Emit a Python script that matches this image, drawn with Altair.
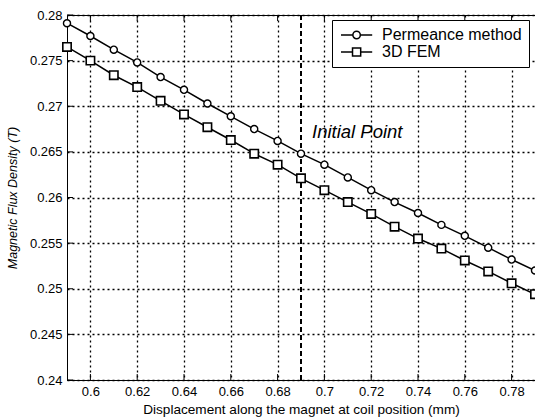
import altair as alt
import pandas as pd

# ---- data ----
x_vals = [0.59, 0.60, 0.61, 0.62, 0.63, 0.64, 0.65, 0.66, 0.67, 0.68, 0.69,
          0.70, 0.71, 0.72, 0.73, 0.74, 0.75, 0.76, 0.77, 0.78, 0.79]
permeance = [0.2791, 0.2777, 0.2762, 0.2748, 0.2732, 0.2718, 0.2703, 0.2689, 0.2675, 0.2662, 0.2648,
             0.2636, 0.2622, 0.2608, 0.2595, 0.2583, 0.2570, 0.2558, 0.2545, 0.2532, 0.2520]
fem3d = [0.2765, 0.2750, 0.2734, 0.2721, 0.2706, 0.2691, 0.2677, 0.2663, 0.2648, 0.2636, 0.2621,
         0.2608, 0.2595, 0.2582, 0.2568, 0.2555, 0.2544, 0.2531, 0.2519, 0.2506, 0.2494]
series_names = ["Permeance method", "3D FEM"]
x_ticks = [0.60, 0.62, 0.64, 0.66, 0.68, 0.70, 0.72, 0.74, 0.76, 0.78]
y_ticks = [0.24, 0.245, 0.25, 0.255, 0.26, 0.265, 0.27, 0.275, 0.28]
initial_x = [0.69]
label_x = [0.6947]
label_y = [0.2665]
label_text = ["Initial Point"]

FONT = "Liberation Sans"

df = pd.DataFrame({
    "x": x_vals * 2,
    "y": permeance + fem3d,
    "series": [series_names[0]] * len(x_vals) + [series_names[1]] * len(x_vals),
})
xt = pd.DataFrame({"x": x_ticks})
yt = pd.DataFrame({"y": y_ticks})
vline = pd.DataFrame({"x": initial_x})
ann = pd.DataFrame({"x": label_x, "y": label_y, "t": label_text})

xscale = alt.Scale(domain=[0.59, 0.79], nice=False, zero=False)
yscale = alt.Scale(domain=[0.24, 0.28], nice=False, zero=False)

X = alt.X("x:Q", scale=xscale,
          axis=alt.Axis(values=x_ticks, format=".2~f",
                        title="Displacement along the magnet at coil position (mm)",
                        titleFont=FONT, titleFontSize=13.6, titleFontWeight="normal",
                        titleColor="black", titlePadding=4))
Y = alt.Y("y:Q", scale=yscale,
          axis=alt.Axis(values=y_ticks, format=".3~f",
                        title="Magnetic Flux Density (T)",
                        titleFont=FONT, titleFontSize=12.5, titleFontStyle="italic",
                        titleFontWeight="normal", titleColor="black", titlePadding=10))

base = alt.Chart(df)

lines = base.mark_line(color="black", strokeWidth=1.5).encode(x=X, y=Y, detail="series:N")

circles = base.transform_filter(alt.datum.series == series_names[0]).mark_point(
    shape="circle", size=50, filled=True, fill="white", stroke="black", strokeWidth=1.4, opacity=1
).encode(x="x:Q", y="y:Q")

squares = base.transform_filter(alt.datum.series == series_names[1]).mark_point(
    shape="square", size=70, filled=True, fill="white", stroke="black", strokeWidth=1.6, opacity=1
).encode(x="x:Q", y="y:Q")

# legend symbols: a line segment with the marker in its middle (unit = sqrt(size)/2 px = 6 px)
circle_path = ("M-1,0 L0.98,0 M2.22,0 L4.2,0 "
               "M0.98,0 A0.62,0.62 0 1,1 2.22,0 A0.62,0.62 0 1,1 0.98,0 Z")
square_path = ("M-1,0 L0.92,0 M2.28,0 L4.2,0 "
               "M0.92,-0.68 L2.28,-0.68 L2.28,0.68 L0.92,0.68 Z")

legend_layer = base.transform_filter("false").mark_point(
    filled=False, stroke="black", color="black", strokeWidth=1.5, size=144, opacity=1
).encode(
    x="x:Q", y="y:Q",
    shape=alt.Shape("series:N",
                    scale=alt.Scale(domain=series_names, range=[circle_path, square_path]),
                    legend=alt.Legend(title=None, orient="none", legendX=265, legendY=5,
                                      labelFont=FONT, labelFontSize=16, labelColor="black",
                                      labelOffset=27, symbolSize=144, symbolStrokeWidth=1.5,
                                      symbolStrokeColor="black",
                                      symbolOpacity=1, strokeColor="black", fillColor="white",
                                      padding=7, rowPadding=1, cornerRadius=0)),
)

vrule = alt.Chart(vline).mark_rule(color="black", strokeWidth=2, strokeDash=[5, 3]).encode(x="x:Q")

text = alt.Chart(ann).mark_text(
    font=FONT, fontSize=18.5, fontStyle="italic", align="left", baseline="alphabetic", color="black"
).encode(x="x:Q", y="y:Q", text="t:N")

xtick_bottom = alt.Chart(xt).mark_rule(color="black", strokeWidth=1).encode(
    x="x:Q", y=alt.value(365), y2=alt.value(359))
xtick_top = alt.Chart(xt).mark_rule(color="black", strokeWidth=1).encode(
    x="x:Q", y=alt.value(0), y2=alt.value(6))
ytick_left = alt.Chart(yt).mark_rule(color="black", strokeWidth=1).encode(
    y="y:Q", x=alt.value(0), x2=alt.value(6))

chart = alt.layer(
    vrule, lines, circles, squares, text, xtick_bottom, xtick_top, ytick_left, legend_layer
).properties(
    width=468, height=365,
    autosize=alt.AutoSizeParams(type="none"),
    padding={"left": 67, "top": 15, "right": 0, "bottom": 40},
    background="white",
).configure_view(
    stroke="black", strokeWidth=1
).configure_axis(
    grid=True, gridColor="black", gridDash=[2, 3], gridWidth=1.3, gridOpacity=1,
    domain=True, domainColor="black", domainWidth=1,
    ticks=False, labelFont=FONT, labelFontSize=13, labelColor="black", labelPadding=5,
)

chart.save("out.html", embed_options={"renderer": "svg", "actions": False})
